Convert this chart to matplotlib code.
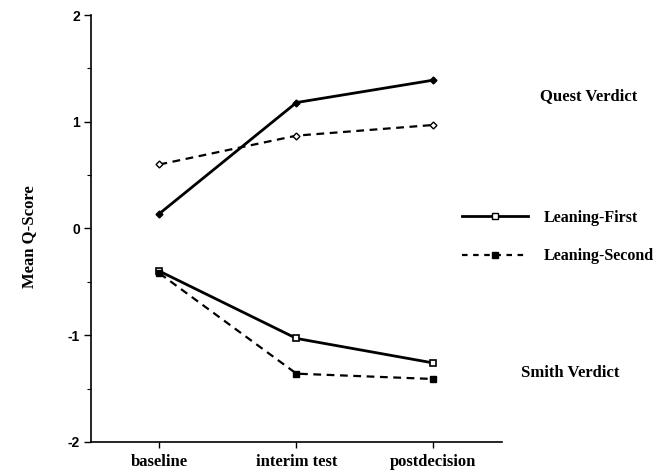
import matplotlib
matplotlib.use("Agg")
import matplotlib.pyplot as plt
from matplotlib.lines import Line2D
from matplotlib.ticker import MultipleLocator

categories = ["baseline", "interim test", "postdecision"]
quest_first = [0.14, 1.18, 1.39]
quest_second = [0.60, 0.87, 0.97]
smith_first = [-0.40, -1.03, -1.26]
smith_second = [-0.42, -1.36, -1.41]
yticks = [-2, -1, 0, 1, 2]

serif = "Liberation Serif"
sans = "Liberation Sans"

fig = plt.figure(figsize=(6.7, 4.72), dpi=100)
ax = fig.add_axes([0.1358, 0.0636, 0.6134, 0.9046])
x = list(range(len(categories)))

dash = (0, (3.5, 2.5))
ax.plot(x, quest_first, color="black", lw=2.0, ls="-", marker="D", ms=3.5,
        mfc="black", mec="black")
ax.plot(x, quest_second, color="black", lw=1.6, ls=dash, marker="D", ms=3.5,
        mfc="white", mec="black", mew=1.0)
ax.plot(x, smith_first, color="black", lw=2.0, ls="-", marker="s", ms=4.5,
        mfc="white", mec="black", mew=1.2)
ax.plot(x, smith_second, color="black", lw=1.6, ls=dash, marker="s", ms=4.5,
        mfc="black", mec="black")

ax.set_xlim(-0.5, 2.5)
ax.set_ylim(-2, 2)
ax.set_xticks(x)
ax.set_xticklabels(categories, fontfamily=serif, fontweight="bold", fontsize=12)
ax.set_yticks(yticks)
ax.set_yticklabels([str(v) for v in yticks], fontfamily=sans, fontweight="bold", fontsize=10)
ax.yaxis.set_minor_locator(MultipleLocator(0.5))
ax.tick_params(axis="y", which="major", length=5, width=1, direction="out", pad=3)
ax.tick_params(axis="y", which="minor", length=3, width=0.8, direction="out")
ax.tick_params(axis="x", which="major", length=4, width=1, direction="out", pad=5)
for s in ["top", "right"]:
    ax.spines[s].set_visible(False)
for s in ["left", "bottom"]:
    ax.spines[s].set_linewidth(1.2)

ax.set_ylabel("Mean Q-Score", fontfamily=serif, fontweight="bold", fontsize=12)
ax.yaxis.set_label_coords(-0.132, 0.48)

fig.text(540 / 670, 1 - 96 / 472, "Quest Verdict", fontfamily=serif, fontweight="bold",
         fontsize=12, va="center", ha="left")
fig.text(521 / 670, 1 - 373 / 472, "Smith Verdict", fontfamily=serif, fontweight="bold",
         fontsize=12, va="center", ha="left")

handles = [
    Line2D([], [], color="black", lw=2.0, ls="-", marker="s", ms=4.5, mfc="white", mec="black"),
    Line2D([], [], color="black", lw=1.6, ls=(0, (2.5, 2.5)), marker="s", ms=4.5, mfc="black", mec="black"),
]
fig.legend(handles, ["Leaning-First", "Leaning-Second"], loc="center left",
           bbox_to_anchor=(448 / 670, 1 - 237 / 472), frameon=False, handlelength=4.1,
           handletextpad=1.0, labelspacing=1.4,
           prop={"family": serif, "weight": "bold", "size": 11.5})

fig.savefig("out.png", dpi=100)
